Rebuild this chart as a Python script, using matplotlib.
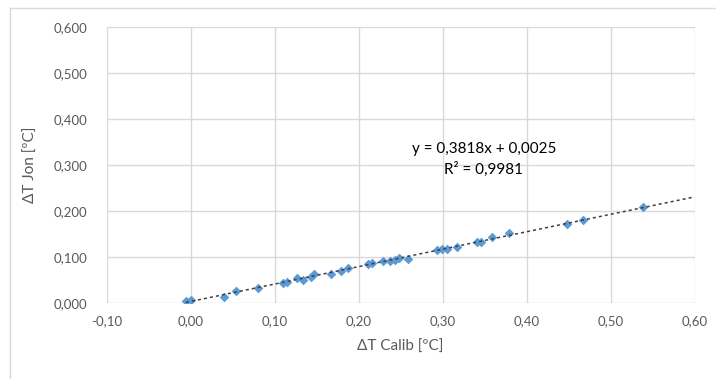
import matplotlib.pyplot as plt
import numpy as np
from matplotlib.lines import Line2D

plt.rcParams['font.family'] = ['Lato', 'DejaVu Sans']

# data
calib = [-0.0056, 0.0000, 0.0400, 0.0539, 0.0798, 0.1102, 0.1143, 0.1269,
         0.1340, 0.1428, 0.1471, 0.1677, 0.1796, 0.1877, 0.2115, 0.2155,
         0.2286, 0.2373, 0.2433, 0.2485, 0.2585, 0.2930, 0.2989, 0.3049,
         0.3168, 0.3406, 0.3454, 0.3592, 0.3787, 0.4477, 0.4675, 0.5382]
jon = [0.0033, 0.0065, 0.0120, 0.0261, 0.0316, 0.0436, 0.0458, 0.0551,
       0.0494, 0.0566, 0.0617, 0.0638, 0.0697, 0.0756, 0.0843, 0.0878,
       0.0915, 0.0915, 0.0937, 0.0974, 0.0959, 0.1140, 0.1170, 0.1170,
       0.1214, 0.1314, 0.1329, 0.1432, 0.1519, 0.1721, 0.1793, 0.2076]
eq_text = "y = 0,3818x + 0,0025"
r2_text = "R² = 0,9981"
xticks = [-0.10, 0.00, 0.10, 0.20, 0.30, 0.40, 0.50, 0.60]
yticks = [0.0, 0.1, 0.2, 0.3, 0.4, 0.5, 0.6]

fig = plt.figure(figsize=(7.16, 3.79), dpi=100)
ax = fig.add_axes([0.149, 0.201, 0.821, 0.727])

# chart border (top/left visible)
fig.add_artist(Line2D([10/716, 10/716], [1 - 8/379, 0], color='#D9D9D9', lw=1))
fig.add_artist(Line2D([10/716, 1], [1 - 8/379, 1 - 8/379], color='#D9D9D9', lw=1))

ax.scatter(calib, jon, marker='D', s=24, color='#5B9BD5', zorder=3, linewidths=0)

# linear trendline, forward to 0.60
k, b = np.polyfit(calib, jon, 1)
xt = np.array([min(calib), 0.60])
ax.plot(xt, k * xt + b, color='#404040', lw=1.1, ls=(0, (2, 2)), zorder=4)

ax.set_xlim(-0.10, 0.60)
ax.set_ylim(0, 0.60)
ax.set_xticks(xticks)
ax.set_yticks(yticks)
ax.set_xticklabels([f"{v:.2f}".replace('.', ',') for v in xticks])
ax.set_yticklabels([f"{v:.3f}".replace('.', ',') for v in yticks])
ax.grid(True, color='#D9D9D9', lw=1)
ax.set_axisbelow(True)
for s in ax.spines.values():
    s.set_visible(False)
ax.tick_params(length=0, labelsize=9.5, colors='#595959')
ax.tick_params(axis='y', pad=14)
ax.tick_params(axis='x', pad=9)

ax.set_xlabel("ΔT Calib [ºC]", fontsize=11, color='#595959', labelpad=9)
ax.set_ylabel("ΔT Jon [ºC]", fontsize=11, color='#595959', labelpad=11)

ax.text(0.349, 0.335, eq_text, fontsize=11, color='black', ha='center', va='center')
ax.text(0.349, 0.290, r2_text, fontsize=11, color='black', ha='center', va='center')

fig.savefig('out.png', dpi=100)
